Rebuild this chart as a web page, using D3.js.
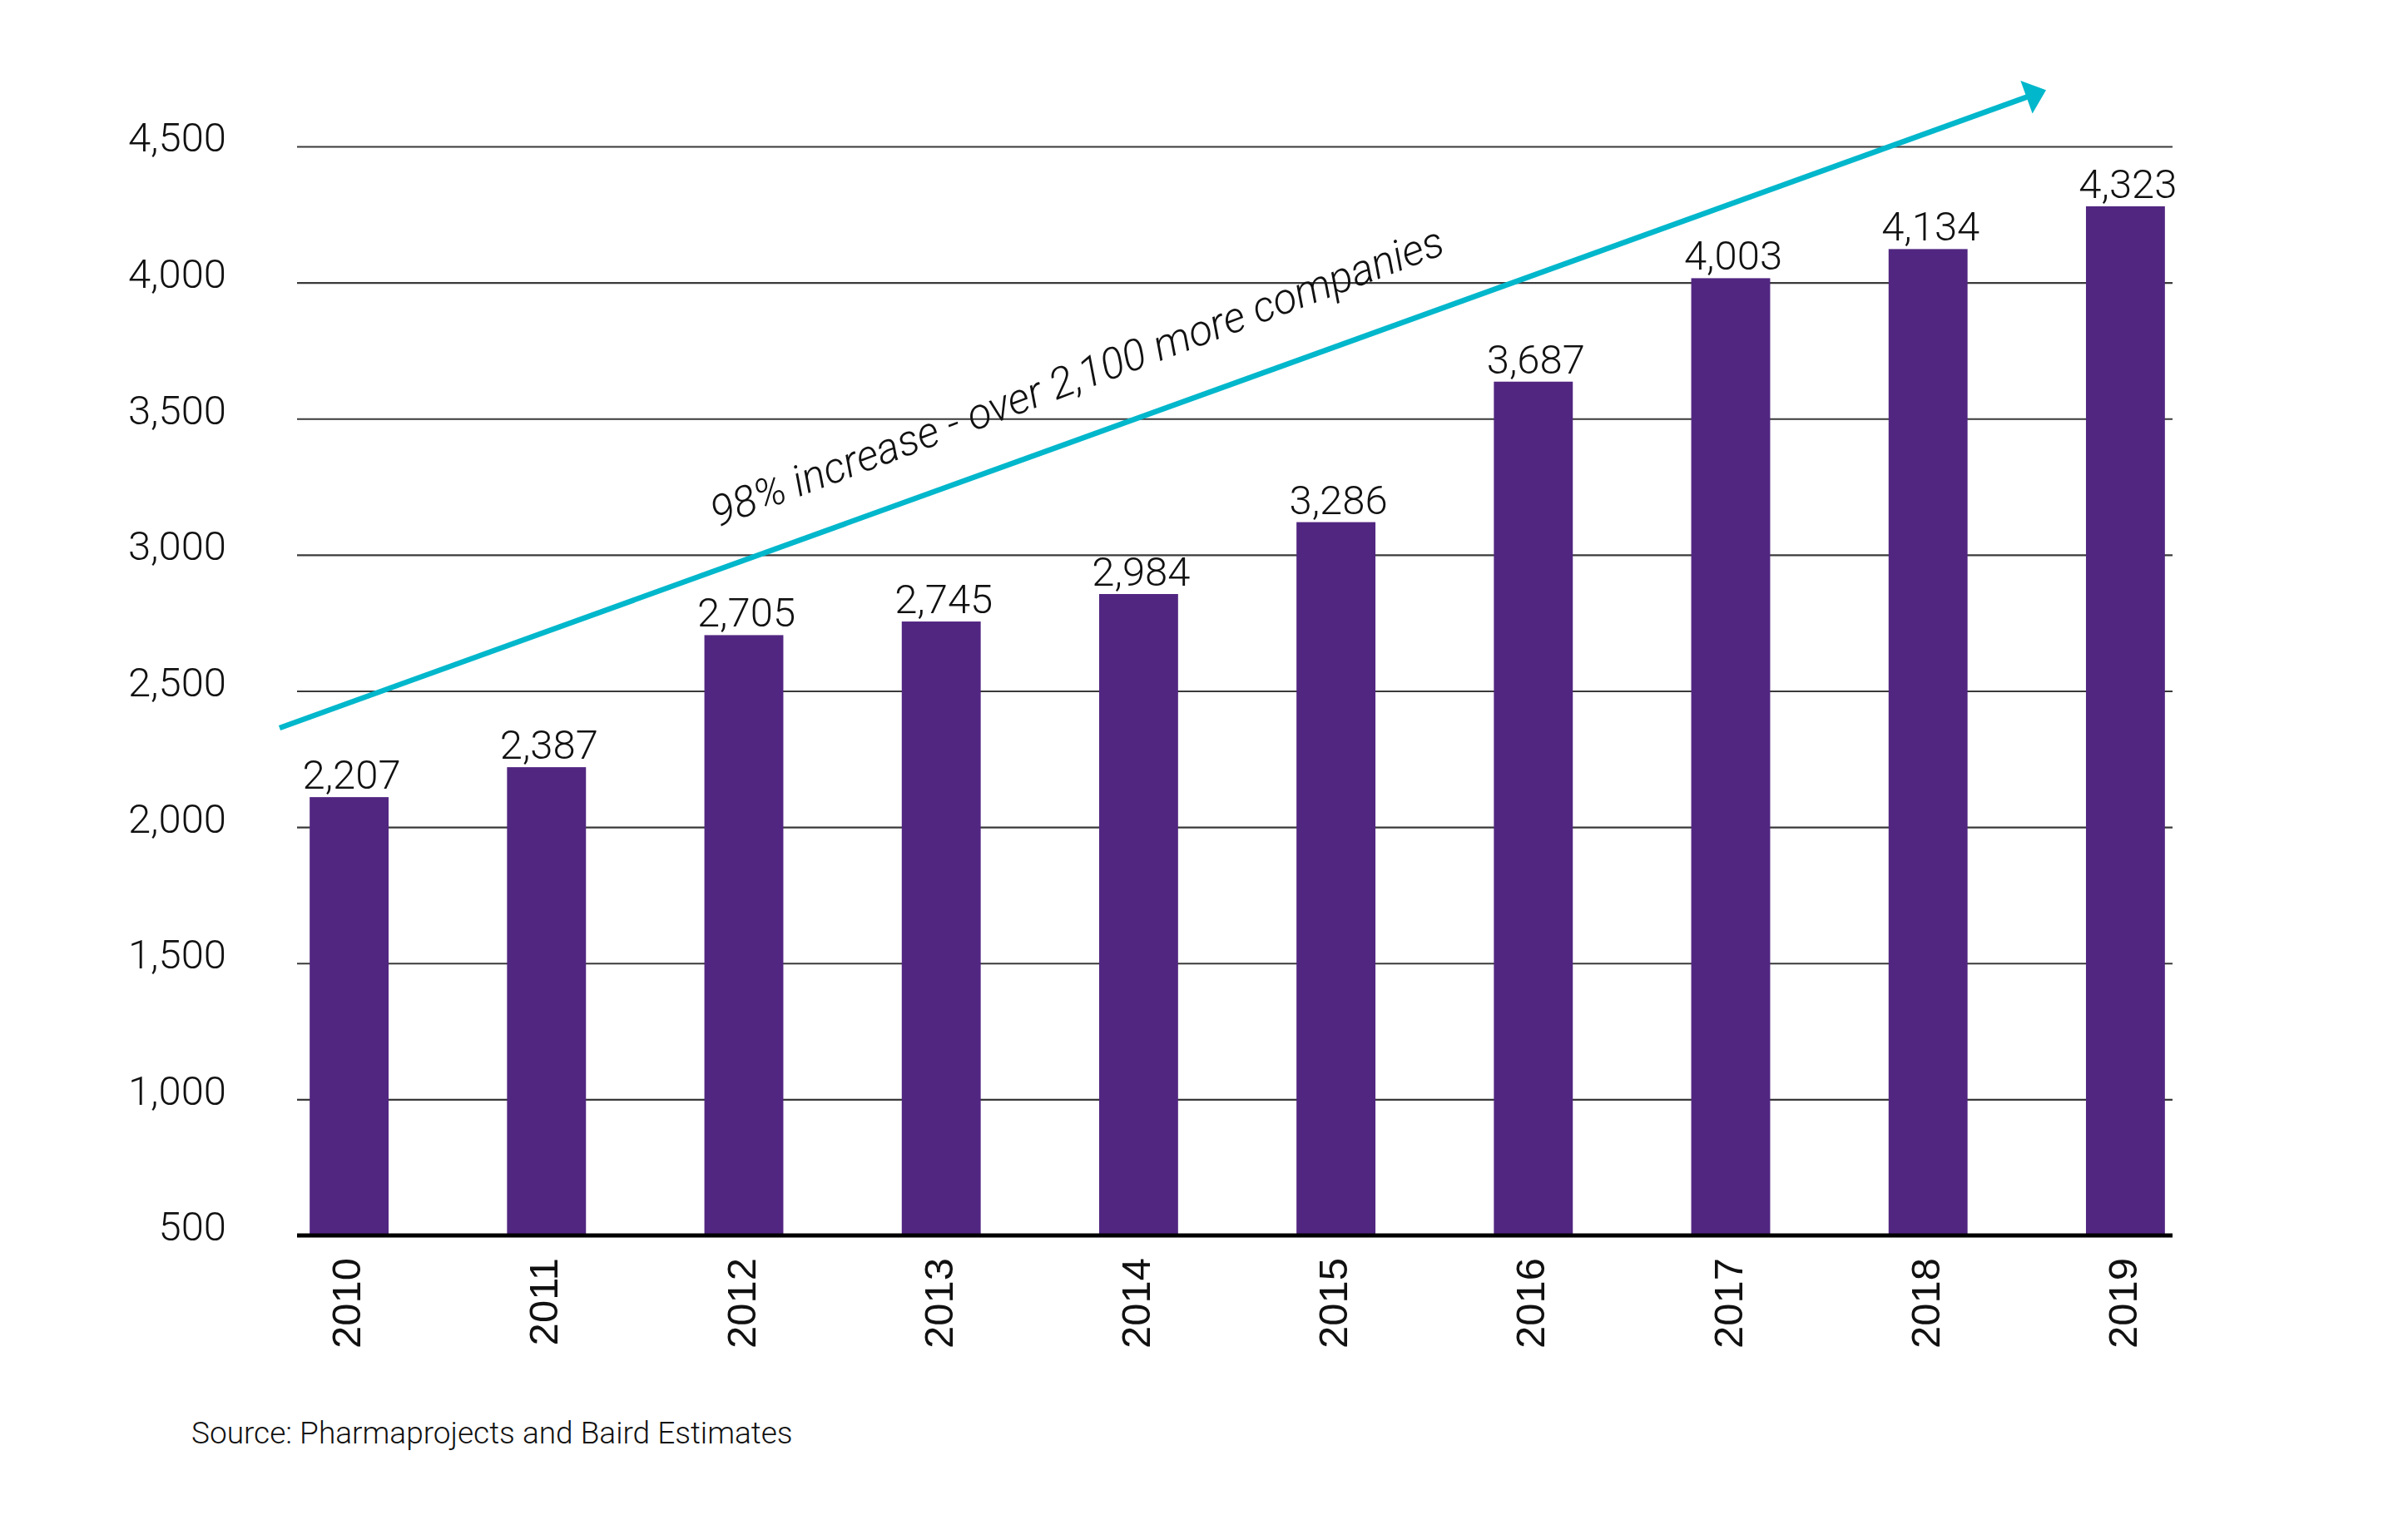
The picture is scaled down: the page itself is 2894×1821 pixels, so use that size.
<!DOCTYPE html>
<html>
<head>
<meta charset="utf-8">
<script src="https://cdn.jsdelivr.net/npm/d3@7"></script>
<style>
	html, body { margin: 0; padding: 0; background: #fff; }
	svg { display: block; }
	.num { font-family: Roboto, "Open Sans", sans-serif; font-weight: 300; fill: #111; }
</style>
</head>
<body>
<div id="chartDiv"></div>
<script>
// data
var years = ["2010", "2011", "2012", "2013", "2014", "2015", "2016", "2017", "2018", "2019"];
// bar heights as drawn (the bars do not sit exactly at their printed labels)
var barValues = [2110, 2220, 2705, 2755, 2856, 3120, 3636, 4016, 4123, 4280];
var barLabels = ["2,207", "2,387", "2,705", "2,745", "2,984", "3,286", "3,687", "4,003", "4,134", "4,323"];
var yTicks = [500, 1000, 1500, 2000, 2500, 3000, 3500, 4000, 4500];
var note = "98% increase - over 2,100 more companies";
var source = "Source: Pharmaprojects and Baird Estimates";

var width = 2894, height = 1821;
var gridLeft = 357, gridRight = 2611;

var svg = d3.select("#chartDiv").append("svg")
	.attr("width", width)
	.attr("height", height);

var x = d3.scaleBand()
	.domain(years)
	.range([301, 2673])
	.paddingInner(0.6)
	.paddingOuter(0.3);

var y = d3.scaleLinear()
	.domain([500, 4500])
	.range([1485, 176]);

// gridlines + y labels
var yAxis = svg.append("g")
	.attr("transform", "translate(" + gridLeft + ",0)")
	.call(d3.axisLeft(y)
		.tickValues(yTicks)
		.tickSize(-(gridRight - gridLeft))
		.tickPadding(85)
		.tickFormat(d3.format(",")));
yAxis.select(".domain").remove();
yAxis.selectAll(".tick line")
	.attr("stroke", "#3a3a3a")
	.attr("stroke-width", 2.2)
	.filter(function(d) { return d === 500; }).remove();
yAxis.selectAll(".tick text")
	.attr("class", "num")
	.attr("font-size", 49)
	.attr("dy", "0.12em");

// bars
svg.append("g").selectAll("rect")
	.data(years)
	.join("rect")
	.attr("x", function(d) { return x(d); })
	.attr("width", x.bandwidth())
	.attr("y", function(d, i) { return y(barValues[i]); })
	.attr("height", function(d, i) { return y(500) - y(barValues[i]); })
	.attr("fill", "#512681");

// value labels
svg.append("g").selectAll("text")
	.data(years)
	.join("text")
	.attr("class", "num")
	.attr("font-size", 49)
	.attr("text-anchor", "middle")
	.attr("x", function(d) { return x(d) + x.bandwidth() / 2 + 3; })
	.attr("y", function(d, i) { return y(barValues[i]) - 10; })
	.text(function(d, i) { return barLabels[i]; });

// baseline
svg.append("line")
	.attr("x1", gridLeft).attr("x2", gridRight)
	.attr("y1", y(500)).attr("y2", y(500))
	.attr("stroke", "#000")
	.attr("stroke-width", 5);

// year labels, rotated
svg.append("g").selectAll("text")
	.data(years)
	.join("text")
	.attr("transform", function(d) {
		return "translate(" + (x(d) + x.bandwidth() / 2 - 4) + "," + (y(500) + 27) + ") rotate(-90)";
	})
	.attr("text-anchor", "end")
	.attr("dy", "0.36em")
	.attr("font-family", "'Liberation Sans', Arial, sans-serif")
	.attr("font-size", 49)
	.attr("fill", "#111")
	.text(function(d) { return d; });

// trend arrow
var arrowFrom = [336, y(2364)];
var arrowTip = [2459, y(4707)];
var ang = Math.atan2(arrowTip[1] - arrowFrom[1], arrowTip[0] - arrowFrom[0]);
var headLen = 25, headHalf = 21;
var back = [arrowTip[0] - headLen * Math.cos(ang), arrowTip[1] - headLen * Math.sin(ang)];

svg.append("line")
	.attr("x1", arrowFrom[0]).attr("y1", arrowFrom[1])
	.attr("x2", back[0] + 4 * Math.cos(ang)).attr("y2", back[1] + 4 * Math.sin(ang))
	.attr("stroke", "#00b7cb")
	.attr("stroke-width", 6.5);

svg.append("path")
	.attr("d", d3.line()([
		arrowTip,
		[back[0] + headHalf * Math.sin(ang), back[1] - headHalf * Math.cos(ang)],
		[back[0] - headHalf * Math.sin(ang), back[1] + headHalf * Math.cos(ang)]
	]) + "Z")
	.attr("fill", "#00b7cb");

svg.append("text")
	.attr("class", "num")
	.attr("transform", "translate(862,634) rotate(-20.6)")
	.attr("font-size", 51.5)
	.attr("font-style", "italic")
	.text(note);

// source
svg.append("text")
	.attr("class", "num")
	.attr("x", 230)
	.attr("y", 1735)
	.attr("font-size", 37)
	.attr("font-weight", 400)
	.text(source);
</script>
</body>
</html>
